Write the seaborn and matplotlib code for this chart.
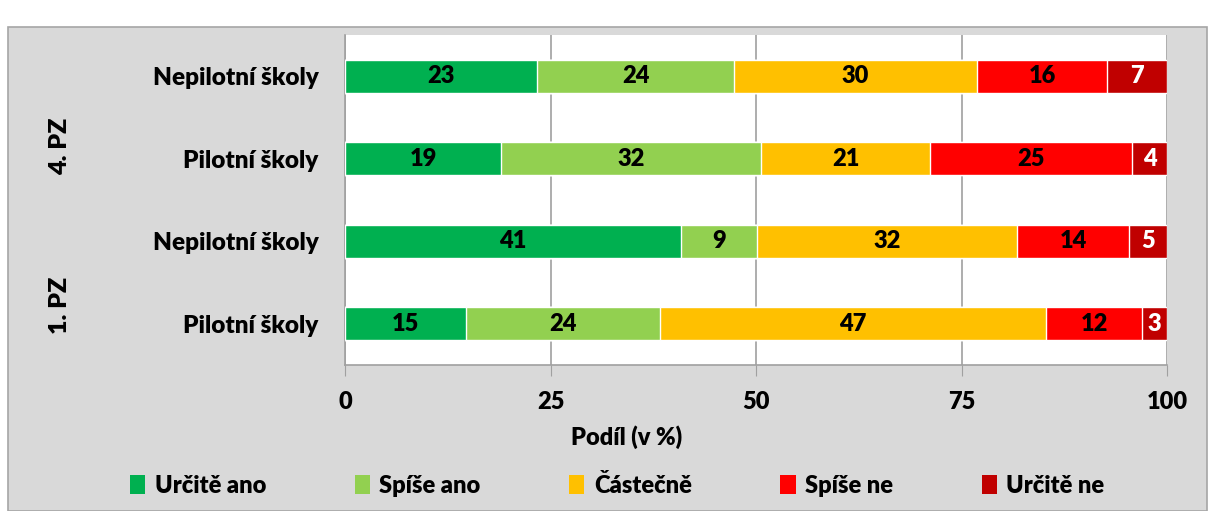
import numpy as np
import pandas as pd
import matplotlib
matplotlib.use("Agg")
import matplotlib.pyplot as plt
from matplotlib.patches import Rectangle, Patch
import seaborn as sns

# Data, rows from top to bottom
row_keys = ["4PZ_nepilot", "4PZ_pilot", "1PZ_nepilot", "1PZ_pilot"]
row_labels = ["Nepilotní školy", "Pilotní školy", "Nepilotní školy", "Pilotní školy"]
group_labels = ["4. PZ", "1. PZ"]
categories = ["Určitě ano", "Spíše ano", "Částečně", "Spíše ne", "Určitě ne"]
urcite_ano = [23.4, 19.0, 40.9, 14.7]
spise_ano = [23.9, 31.6, 9.2, 23.6]
castecne = [29.6, 20.6, 31.7, 47.0]
spise_ne = [15.8, 24.6, 13.6, 11.7]
urcite_ne = [7.3, 4.2, 4.6, 3.0]
x_ticks = [0, 25, 50, 75, 100]

colors = ["#00B050", "#92D050", "#FFC000", "#FF0000", "#C00000"]
label_colors = ["black", "black", "black", "black", "white"]
W = "heavy"

sns.set_style("white")
plt.rcParams["font.family"] = ["Lato", "DejaVu Sans"]
plt.rcParams["font.weight"] = W
plt.rcParams["text.color"] = "black"
plt.rcParams["xtick.color"] = "black"
plt.rcParams["ytick.color"] = "black"
plt.rcParams["axes.labelcolor"] = "black"

df = pd.DataFrame({"row": row_keys})
series = [urcite_ano, spise_ano, castecne, spise_ne, urcite_ne]
for name, vals in zip(categories, series):
    df[name] = vals
cum = df[categories].cumsum(axis=1)

fig = plt.figure(figsize=(12.15, 5.11), dpi=100)
fig.patch.set_facecolor("white")
# grey chart area frame
frame = Rectangle((8 / 1215, 0.0), 1199 / 1215, (511 - 27) / 511,
                  transform=fig.transFigure, facecolor="#D9D9D9",
                  edgecolor="#A6A6A6", linewidth=1.2, zorder=-10)
fig.patches.append(frame)

ax = fig.add_axes([345 / 1215, 1 - 365 / 511, 822 / 1215, 330 / 511])
ax.set_zorder(5)
ax.set_facecolor("white")

# stacked bars: draw cumulative totals from the largest down
for i in range(len(categories) - 1, -1, -1):
    sns.barplot(x=cum[categories[i]], y=df["row"], orient="h", color=colors[i],
                width=0.4, saturation=1, ax=ax, zorder=3)

# segment labels
for r in range(len(df)):
    start = 0.0
    for i, name in enumerate(categories):
        v = df[name].iloc[r]
        ax.text(start + v / 2, r, f"{v:.0f}", ha="center", va="center",
                fontsize=17, fontweight=W, color=label_colors[i], zorder=5)
        start += v

ax.set_xlim(0, 100)
ax.set_ylim(3.5, -0.5)
ax.set_xticks(x_ticks)
ax.set_xticklabels([str(t) for t in x_ticks], fontsize=17, fontweight=W)
ax.xaxis.grid(True, color="#A0A0A0", linewidth=1.2, zorder=0)
ax.set_axisbelow(True)

ax.set_yticks(range(len(row_labels)))
ax.set_yticklabels(row_labels, fontsize=17.5, fontweight=W)
ax.set_yticks(np.arange(-0.5, len(row_labels), 1.0), minor=True)
ax.tick_params(axis="y", which="major", length=0, pad=19)
ax.tick_params(axis="y", which="minor", length=8, color="#A0A0A0", direction="out")
ax.tick_params(axis="x", which="major", length=8, color="#A0A0A0", direction="out",
               pad=11, bottom=True)

for side in ["top", "right"]:
    ax.spines[side].set_visible(False)
for side in ["left", "bottom"]:
    ax.spines[side].set_color("#A0A0A0")
    ax.spines[side].set_linewidth(1.2)

ax.set_ylabel("")
ax.set_xlabel("Podíl (v %)", fontsize=17, fontweight=W)
ax.xaxis.set_label_coords((627 - 345) / 822, -(437 - 365) / 330)
ax.xaxis.label.set_va("center")

# group labels
fig.text(60 / 1215, 1 - 146 / 511, group_labels[0], rotation=90, ha="center",
         va="center", fontsize=18, fontweight=W)
fig.text(60 / 1215, 1 - 305 / 511, group_labels[1], rotation=90, ha="center",
         va="center", fontsize=18, fontweight=W)

handles = [Patch(facecolor=c, edgecolor="none") for c in colors]
fig.legend(handles, categories, loc="center", bbox_to_anchor=(0.508, 1 - 485 / 511),
           ncol=5, frameon=False, handlelength=0.65, handleheight=0.9,
           handletextpad=0.4, columnspacing=3.75,
           prop={"size": 17, "weight": W})

fig.savefig("out.png", dpi=100, facecolor=fig.get_facecolor())
